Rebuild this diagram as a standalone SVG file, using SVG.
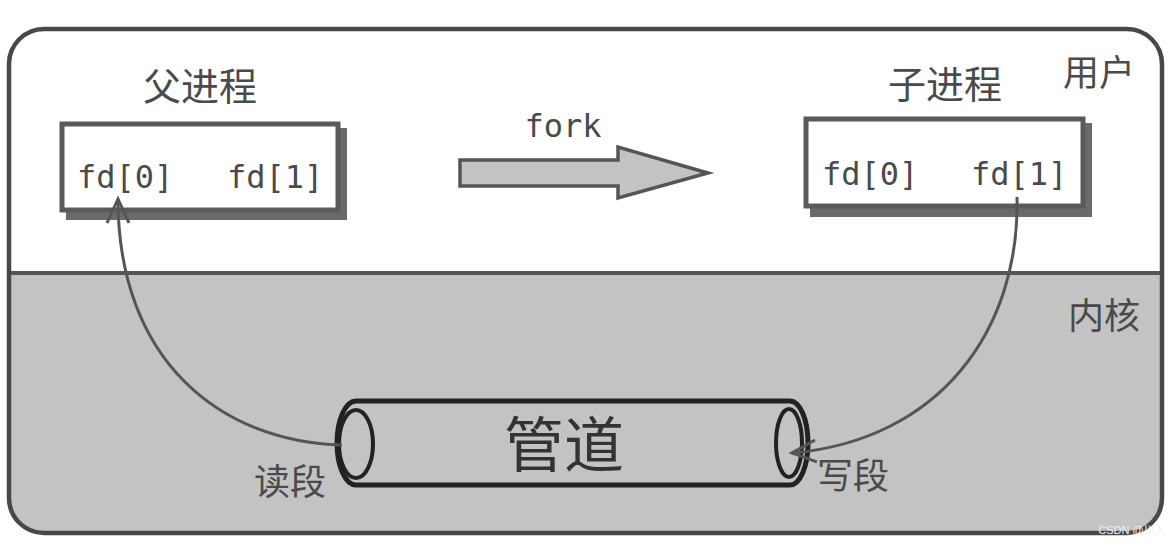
<svg xmlns="http://www.w3.org/2000/svg" width="1174" height="550" viewBox="0 0 1174 550">
<defs>
<style>
.lbl{font-family:"Noto Sans CJK SC","Noto Sans",sans-serif;fill:#4a4a4a}
.mono{font-family:"DejaVu Sans Mono","Liberation Mono",monospace;fill:#4a4a4a}
.box{fill:#fff;stroke:#5a5a5a;stroke-width:5}
.shadow{fill:#6a6a6a}
.conn{fill:none;stroke:#555;stroke-width:3}
</style>
<marker id="arr" viewBox="-26 -14 30 28" markerWidth="30" markerHeight="28" refX="0" refY="0" orient="auto" markerUnits="userSpaceOnUse">
<path d="M -24 -11 L 0 0 L -24 11" fill="none" stroke="#555" stroke-width="3"/>
</marker>
</defs>
<rect width="1174" height="550" fill="#fff"/>
<g id="frame">
<path d="M 9 273 L 1162 273 L 1162 498 A 35 35 0 0 1 1127 533 L 44 533 A 35 35 0 0 1 9 498 Z" fill="#c3c3c3"/>
<line x1="9" y1="273" x2="1162" y2="273" stroke="#555" stroke-width="4"/>
<rect x="9" y="29" width="1153" height="504" rx="35" ry="35" fill="none" stroke="#484848" stroke-width="4.5"/>
<text class="lbl" x="1099" y="86" font-size="36" text-anchor="middle">用户</text>
<text class="lbl" x="1104" y="329" font-size="36" text-anchor="middle">内核</text>
</g>
<g id="parent">
<text class="lbl" x="200" y="100" font-size="38" text-anchor="middle">父进程</text>
<rect class="shadow" x="66" y="128" width="281" height="92"/>
<rect class="box" x="62" y="124" width="276" height="86"/>
<text class="mono" x="77" y="188" font-size="32">fd[0]</text>
<text class="mono" x="227" y="188" font-size="32">fd[1]</text>
</g>
<g id="child">
<text class="lbl" x="945" y="98" font-size="38" text-anchor="middle">子进程</text>
<rect class="shadow" x="810" y="123" width="282" height="94"/>
<rect class="box" x="806" y="119" width="277" height="87"/>
<text class="mono" x="822" y="185" font-size="32">fd[0]</text>
<text class="mono" x="971" y="185" font-size="32">fd[1]</text>
</g>
<g id="fork">
<path d="M 460 160 L 618 160 L 618 147 L 708 173 L 618 198 L 618 186 L 460 186 Z" fill="#c3c3c3" stroke="#555" stroke-width="3.5" stroke-linejoin="miter"/>
<text class="mono" x="563" y="137" font-size="32" text-anchor="middle">fork</text>
</g>
<g id="pipe">
<path d="M 356 401 L 790 401 A 18 42 0 0 1 790 485 L 356 485 A 19 42 0 0 1 356 401 Z" fill="#c3c3c3" stroke="#222" stroke-width="5"/>
<ellipse cx="356" cy="444" rx="17" ry="34" fill="#c3c3c3" stroke="#222" stroke-width="4"/>
<ellipse cx="789" cy="443" rx="13" ry="34" fill="#c3c3c3" stroke="#222" stroke-width="4"/>
<text class="lbl" x="564" y="467" font-size="60" text-anchor="middle" style="fill:#333">管道</text>
<text class="lbl" x="290" y="495" font-size="36" text-anchor="middle">读段</text>
<text class="lbl" x="853" y="489" font-size="36" text-anchor="middle">写段</text>
</g>
<g id="connectors">
<path class="conn" d="M 342 445 C 220 442, 118 360, 118 199" marker-end="url(#arr)"/>
<path class="conn" d="M 1017 197 C 1020 330, 940 440, 792 453" marker-end="url(#arr)"/>
</g>
<text x="1132" y="534" font-family="Liberation Sans, Noto Sans CJK SC, sans-serif" font-size="11" fill="#f2f2f2" text-anchor="middle">CSDN @川入</text>
</svg>
